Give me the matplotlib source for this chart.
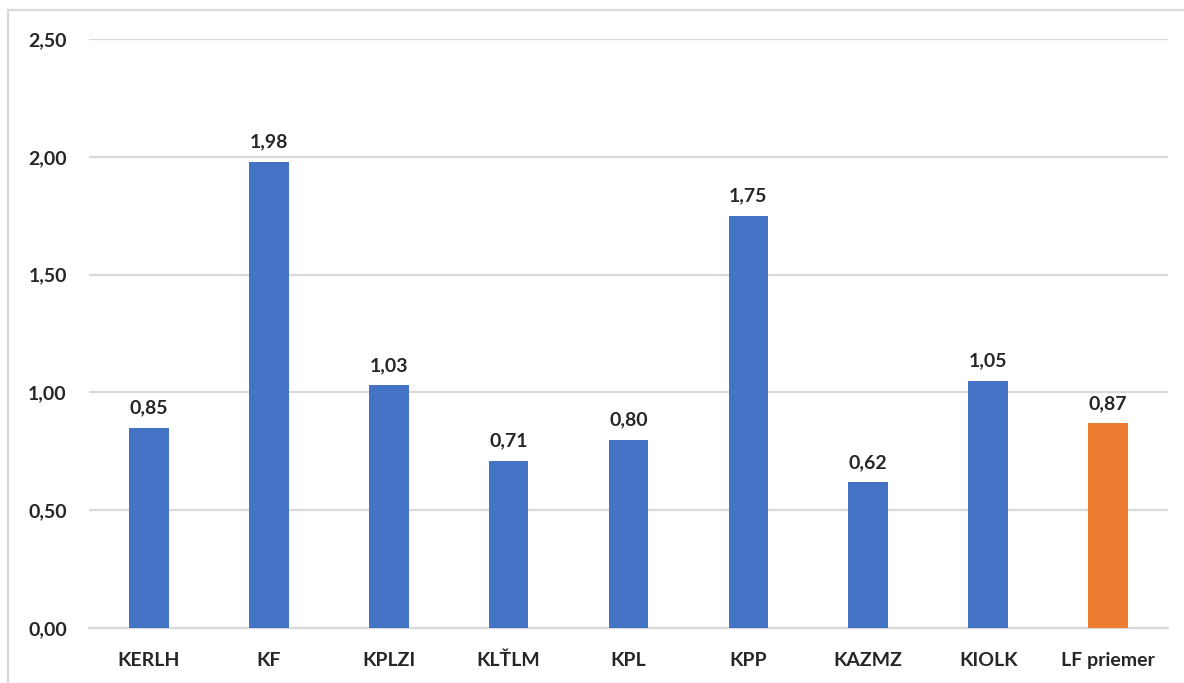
import matplotlib
matplotlib.use("Agg")
import matplotlib.pyplot as plt
from matplotlib.patches import Rectangle

categories = ["KERLH", "KF", "KPLZI", "KLŤLM", "KPL", "KPP", "KAZMZ", "KIOLK", "LF priemer"]
values = [0.85, 1.98, 1.03, 0.71, 0.80, 1.75, 0.62, 1.05, 0.87]
colors = ["#4472C4"] * 8 + ["#ED7D31"]
yticks = [0.0, 0.5, 1.0, 1.5, 2.0, 2.5]

plt.rcParams["font.family"] = ["Lato", "DejaVu Sans"]

fig = plt.figure(figsize=(11.84, 6.83), dpi=100)
ax = fig.add_axes([89 / 1184, 1 - 628 / 683, (1168 - 89) / 1184, (628 - 39) / 683])

# outer chart frame (runs past the right and bottom edges)
fig.patches.append(Rectangle((8 / 1184, -0.05), 1.2, 1 - 10 / 683 + 0.05,
                             transform=fig.transFigure, fill=False,
                             edgecolor="#d9d9d9", linewidth=1.6))

x = range(len(categories))
bars = ax.bar(x, values, width=0.33, color=colors, zorder=3)

for b, v in zip(bars, values):
    ax.annotate(f"{v:.2f}".replace(".", ","), (b.get_x() + b.get_width() / 2, v),
                xytext=(0, 8), textcoords="offset points", ha="center", va="bottom",
                fontsize=14, fontweight="bold", color="#262626")

ax.set_xlim(-0.5, len(categories) - 0.5)
ax.set_ylim(0, 2.5)
ax.set_yticks(yticks)
ax.set_yticklabels([f"{t:.2f}".replace(".", ",") for t in yticks])
ax.set_xticks(list(x))
ax.set_xticklabels(categories)
for lbl in ax.get_xticklabels() + ax.get_yticklabels():
    lbl.set_fontweight("bold")
    lbl.set_fontsize(14)
    lbl.set_color("#262626")

ax.tick_params(axis="both", length=0)
ax.tick_params(axis="y", pad=16)
ax.tick_params(axis="x", pad=17)
ax.grid(axis="y", color="#d9d9d9", linewidth=1.6, zorder=0)
for s in ["top", "right", "left"]:
    ax.spines[s].set_visible(False)
ax.spines["bottom"].set_color("#d9d9d9")
ax.spines["bottom"].set_linewidth(1.6)

fig.savefig("out.png", dpi=100)
